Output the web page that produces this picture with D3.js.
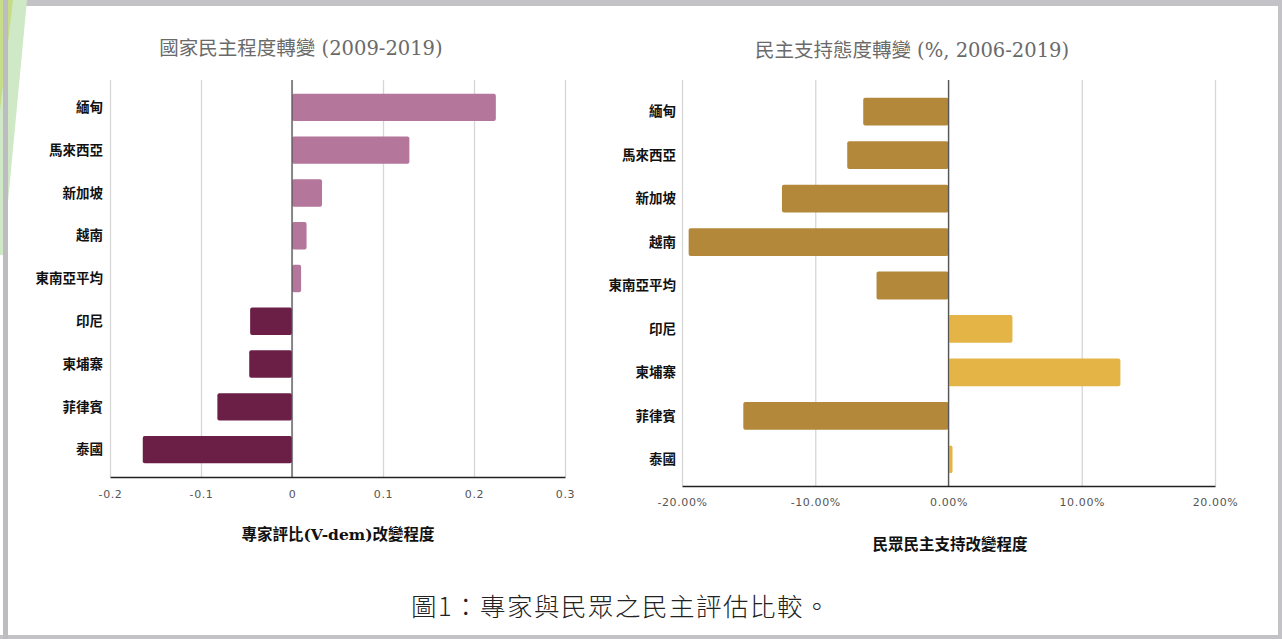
<!DOCTYPE html>
<html><head><meta charset="utf-8">
<script src="https://cdn.jsdelivr.net/npm/d3@7"></script>
<style>
html,body{margin:0;padding:0;background:#fff;}
svg{display:block;}
</style></head>
<body>
<svg id="c" width="1282" height="639"></svg>
<script>
const categories = ["緬甸","馬來西亞","新加坡","越南","東南亞平均","印尼","柬埔寨","菲律賓","泰國"];
const expertChange = [0.224, 0.129, 0.033, 0.016, 0.010, -0.046, -0.047, -0.082, -0.164];
const publicChange = [-6.4, -7.6, -12.5, -19.5, -5.4, 4.8, 12.9, -15.4, 0.3];
const expertTicks = [-0.2, -0.1, 0, 0.1, 0.2, 0.3];
const publicTicks = [-20, -10, 0, 10, 20];
const titles = [["國家民主程度轉變", " (2009-2019)"], ["民主支持態度轉變", " (%, 2006-2019)"]];
const axisTitles = [["專家評比", "(V-dem)", "改變程度"], ["民眾民主支持改變程度", "", ""]];
const caption = "圖1：專家與民眾之民主評估比較。";

const svg = d3.select("#c");
const W = 1282, H = 639;

// frame
svg.append("rect").attr("x",0).attr("y",0).attr("width",W).attr("height",H).attr("fill","#fff");
svg.append("rect").attr("x",0).attr("y",0).attr("width",W).attr("height",6).attr("fill","#c3c3c7");
svg.append("rect").attr("x",0).attr("y",635).attr("width",W).attr("height",4).attr("fill","#c3c3c7");
svg.append("rect").attr("x",1278).attr("y",0).attr("width",4).attr("height",H).attr("fill","#c3c3c7");
svg.append("polygon").attr("points","0,0 27,0 3,255 0,255").attr("fill","#cfe8c6");
svg.append("polygon").attr("points","0,0 13,0 0,110").attr("fill","#c6dc86");
svg.append("rect").attr("x",3).attr("y",0).attr("width",5).attr("height",H).attr("fill","#bdbdc1");

const cjk = "'Noto Sans CJK TC','Noto Sans CJK SC',sans-serif";
const serifCjk = "'DejaVu Serif','Noto Sans CJK TC',serif";
const hy = s => s.replace("\u2212", "-");

function chart(cfg){
  const g = svg.append("g");
  const x = d3.scaleLinear().domain(cfg.domain).range(cfg.xr);
  const y = d3.scaleBand().domain(categories).range(cfg.yr).paddingInner(0.36).paddingOuter(0.18);
  const top = cfg.top, bottom = cfg.bottom;

  // gridlines
  const grid = g.append("g").attr("transform",`translate(0,${bottom})`)
    .call(d3.axisBottom(x).tickValues(cfg.ticks).tickSize(-(bottom-top)).tickFormat(""));
  grid.select(".domain").remove();
  grid.selectAll("line").attr("stroke","#d6d6d6").attr("stroke-width",1.3);

  // bars
  g.selectAll("rect.bar").data(categories).join("rect").attr("class","bar")
    .attr("x",(d,i)=>x(Math.min(0,cfg.values[i])))
    .attr("width",(d,i)=>Math.abs(x(cfg.values[i])-x(0)))
    .attr("y",d=>y(d)).attr("height",y.bandwidth())
    .attr("rx",2)
    .attr("fill",(d,i)=>cfg.values[i]>=0?cfg.pos:cfg.neg);

  // zero line
  g.append("line").attr("x1",x(0)).attr("x2",x(0)).attr("y1",top).attr("y2",bottom)
    .attr("stroke","#555").attr("stroke-width",1.3);

  // bottom axis
  const ax = g.append("g").attr("transform",`translate(0,${bottom})`)
    .call(d3.axisBottom(x).tickValues(cfg.ticks).tickSize(0).tickPadding(cfg.tickPad).tickFormat(cfg.fmt));
  ax.select(".domain").attr("stroke","#222").attr("stroke-width",1.6);
  ax.selectAll("text").attr("fill","#555").attr("font-size",11)
    .attr("font-family","'DejaVu Sans',sans-serif").attr("letter-spacing","0.6px");

  // category labels
  g.selectAll("text.cat").data(categories).join("text").attr("class","cat")
    .attr("x",cfg.labelX).attr("y",d=>y(d)+y.bandwidth()/2)
    .attr("dy","0.35em").attr("text-anchor","end")
    .attr("font-family",cjk).attr("font-weight",700).attr("font-size",13.5).attr("fill","#111")
    .text(d=>d);

  // title
  const t = g.append("text").attr("x",cfg.titleX).attr("y",cfg.titleY).attr("text-anchor","middle")
    .attr("font-size",19.5).attr("fill","#6a6a6a");
  t.append("tspan").attr("font-family",cjk).text(cfg.title[0]);
  t.append("tspan").attr("font-family",serifCjk).text(cfg.title[1]);

  // axis title
  const a = g.append("text").attr("x",cfg.atX).attr("y",cfg.atY).attr("text-anchor","middle")
    .attr("font-weight",700).attr("font-size",15.5).attr("fill","#111");
  a.append("tspan").attr("font-family",cjk).text(cfg.axisTitle[0]);
  if (cfg.axisTitle[1]) a.append("tspan").attr("font-family",serifCjk).text(cfg.axisTitle[1]);
  if (cfg.axisTitle[2]) a.append("tspan").attr("font-family",cjk).text(cfg.axisTitle[2]);
}

chart({
  domain:[-0.2,0.3], xr:[110,565], yr:[86,471], top:80, bottom:477,
  ticks:expertTicks, values:expertChange,
  pos:"#b4769a", neg:"#6b1f46",
  fmt:d=>d===0?"0":hy(d3.format(".1f")(d)), tickPad:13,
  labelX:103, title:titles[0], titleX:301, titleY:55,
  axisTitle:axisTitles[0], atX:338, atY:540
});

chart({
  domain:[-20,20], xr:[682,1215], yr:[90,481], top:80, bottom:486,
  ticks:publicTicks, values:publicChange,
  pos:"#e4b546", neg:"#b4883a",
  fmt:d=>hy(d3.format(".2f")(d))+"%", tickPad:12,
  labelX:676, title:titles[1], titleX:912, titleY:57,
  axisTitle:axisTitles[1], atX:950, atY:550
});

svg.append("text").attr("x",621).attr("y",616).attr("text-anchor","middle")
  .attr("font-family",cjk).attr("font-size",25.5).attr("font-weight",300).attr("fill","#222")
  .attr("letter-spacing","1.5px")
  .text(caption);
</script>
</body></html>
